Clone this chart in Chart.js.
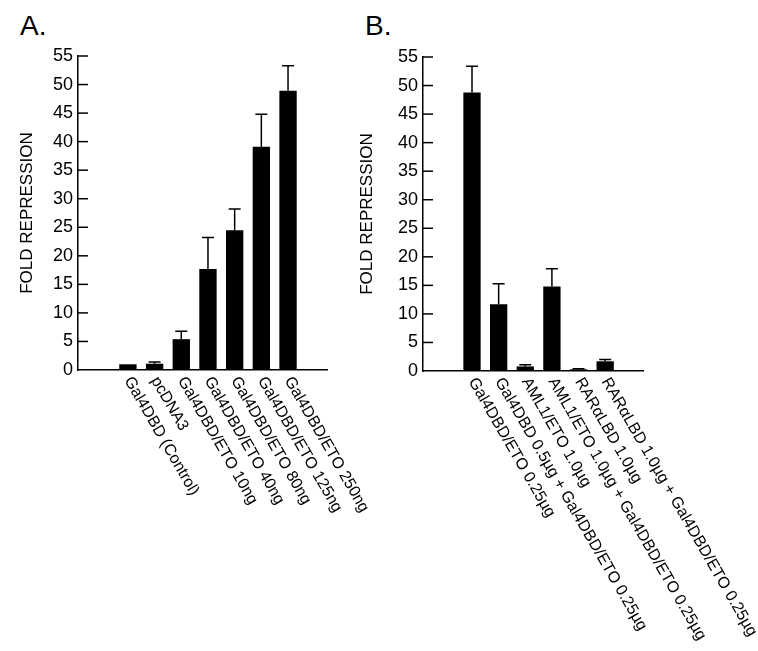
<!DOCTYPE html>
<html>
<head>
<meta charset="utf-8">
<script src="https://cdn.jsdelivr.net/npm/chart.js@4.4.1/dist/chart.umd.min.js"></script>
<style>
body { margin: 0; background: #fff; }
#wrap { position: relative; width: 758px; height: 651px; overflow: hidden; }
canvas { position: absolute; top: 0; }
.panel { position: absolute; top: 12px; font: 28px "Liberation Sans", Arial, sans-serif; line-height: 28px; color: #000; }
</style>
</head>
<body>
<div id="wrap">
  <div class="panel" style="left:20px">A.</div>
  <div class="panel" style="left:365px">B.</div>
  <canvas id="chartA" width="380" height="651" style="left:0"></canvas>
  <canvas id="chartB" width="418" height="651" style="left:340px"></canvas>
</div>
<script>
// panel A
const namesA = ["Gal4DBD (Control)", "pcDNA3", "Gal4DBD/ETO 10ng", "Gal4DBD/ETO 40ng",
  "Gal4DBD/ETO 80ng", "Gal4DBD/ETO 125ng", "Gal4DBD/ETO 250ng"];
const valuesA = [1.0, 1.1, 5.4, 17.7, 24.5, 39.1, 48.9];
const errA = [0, 0.3, 1.4, 5.5, 3.7, 5.7, 4.4];

// panel B
const namesB = ["Gal4DBD/ETO 0.25µg", "Gal4DBD 0.5µg + Gal4DBD/ETO 0.25µg", "AML1/ETO 1.0µg",
  "AML1/ETO 1.0µg + Gal4DBD/ETO 0.25µg", "RARαLBD 1.0µg", "RARαLBD 1.0µg + Gal4DBD/ETO 0.25µg"];
const valuesB = [48.8, 11.7, 0.8, 14.8, 0.3, 1.7];
const errB = [4.6, 3.6, 0.3, 3.1, 0.1, 0.3];

const yMax = 55;
const yStep = 5;
const yTitle = "FOLD REPRESSION";

Chart.defaults.font.family = '"Liberation Sans", Arial, sans-serif';
Chart.defaults.color = '#000';

// inward tick marks, error bars and slanted category names
const extras = {
  id: 'extras',
  afterDraw(chart) {
    const ctx = chart.ctx, area = chart.chartArea;
    const y = chart.scales.y;
    const meta = chart.getDatasetMeta(0);
    const opt = chart.options.plugins.extras;
    const data = chart.data.datasets[0].data;
    ctx.save();
    ctx.strokeStyle = '#000';
    ctx.lineWidth = 1.5;
    y.ticks.forEach(t => {
      if (t.value === 0) return;
      const py = y.getPixelForValue(t.value);
      ctx.beginPath();
      ctx.moveTo(area.left, py);
      ctx.lineTo(area.left + 10, py);
      ctx.stroke();
    });
    meta.data.forEach((bar, i) => {
      const e = opt.err[i];
      if (!e) return;
      const top = y.getPixelForValue(data[i].y + e);
      ctx.beginPath();
      ctx.moveTo(bar.x, bar.y);
      ctx.lineTo(bar.x, top);
      ctx.moveTo(bar.x - 6, top);
      ctx.lineTo(bar.x + 6, top);
      ctx.stroke();
    });
    ctx.fillStyle = '#000';
    ctx.font = '16px "Liberation Sans", Arial, sans-serif';
    ctx.textAlign = 'left';
    ctx.textBaseline = 'middle';
    meta.data.forEach((bar, i) => {
      ctx.save();
      ctx.translate(bar.x, area.bottom + 8);
      ctx.rotate(Math.PI / 3);
      ctx.fillText(opt.names[i], 0, 0);
      ctx.restore();
    });
    ctx.restore();
  }
};

function makeChart(id, names, values, err, xMin, xMax, yWidth, titlePad, pad) {
  return new Chart(document.getElementById(id), {
    type: 'bar',
    data: {
      datasets: [{
        data: values.map((v, i) => ({ x: i, y: v })),
        backgroundColor: '#000',
        borderWidth: 0,
        barPercentage: 0.65,
        categoryPercentage: 1
      }]
    },
    options: {
      responsive: false,
      animation: false,
      layout: { padding: pad },
      plugins: {
        legend: { display: false },
        tooltip: { enabled: false },
        extras: { names: names, err: err }
      },
      scales: {
        x: {
          type: 'linear',
          min: xMin,
          max: xMax,
          offset: false,
          ticks: { display: false },
          grid: { display: false, drawTicks: false },
          border: { display: true, color: '#000', width: 1.5 },
          afterFit: s => { s.height = 0; }
        },
        y: {
          min: 0,
          max: yMax,
          ticks: { stepSize: yStep, font: { size: 18 }, color: '#000', padding: 5 },
          grid: { display: false, drawTicks: false, tickLength: 0 },
          border: { display: true, color: '#000', width: 1.5 },
          title: { display: true, text: yTitle, font: { size: 17 }, color: '#000', padding: { top: 17, bottom: 0 } },
          afterFit: s => { s.width = yWidth; }
        }
      }
    },
    plugins: [extras]
  });
}

makeChart('chartA', namesA, valuesA, errA, -1.87, 7.46, 78, 17, { left: 0, top: 56, right: 53, bottom: 281 });
makeChart('chartB', namesB, valuesB, errB, -1.84, 6.42, 83, 20, { left: 0, top: 57, right: 115, bottom: 280 });
</script>
</body>
</html>
